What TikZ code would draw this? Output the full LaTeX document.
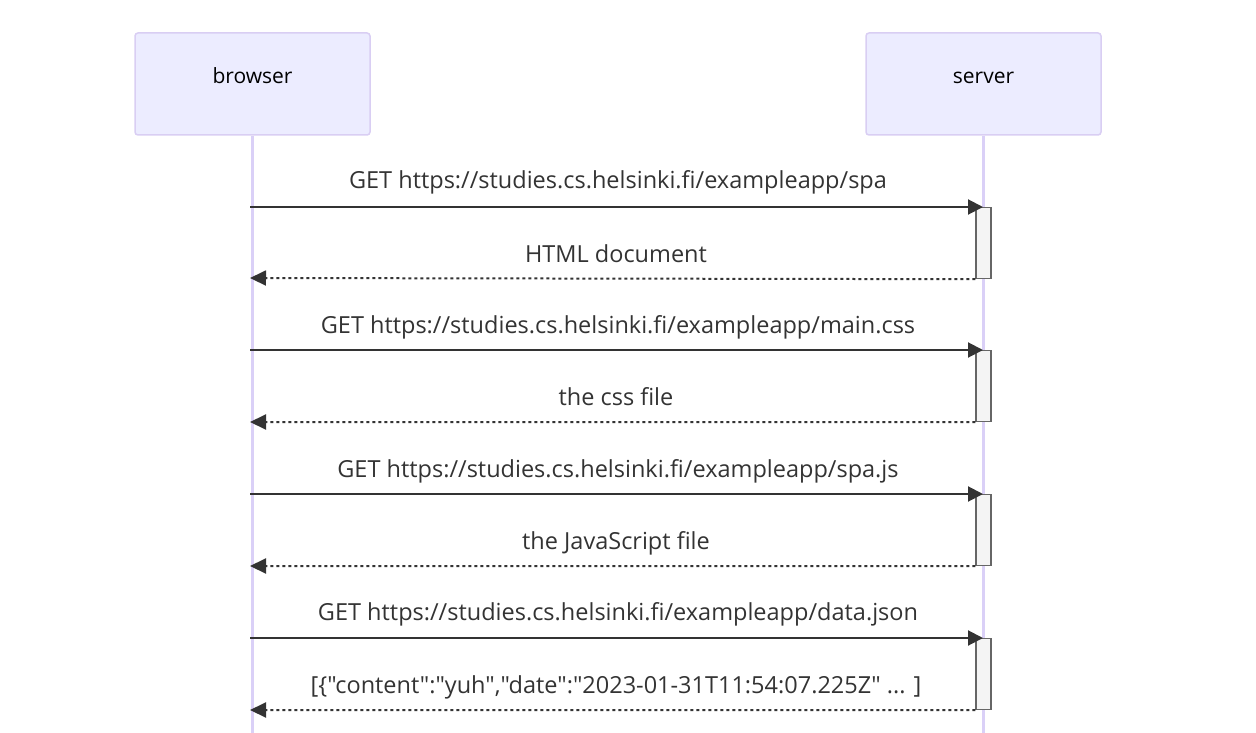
\documentclass[tikz,border=0pt]{standalone}
\usepackage{fontspec}
\setmainfont[Ligatures={CommonOff,TeXOff}]{Open Sans}
\usetikzlibrary{arrows.meta}
\definecolor{actfill}{HTML}{ECECFF}
\definecolor{actline}{HTML}{D9CEF3}
\definecolor{lifecol}{HTML}{DAD0F7}
\definecolor{txt}{HTML}{333333}
\definecolor{actvfill}{HTML}{F4F4F4}
\definecolor{actvline}{HTML}{666666}
\tikzset{
  actor/.style={draw=actline, fill=actfill, line width=1.5pt, rounded corners=3pt, minimum width=235pt, minimum height=102pt, inner sep=0pt},
  actorlabel/.style={font=\fontsize{21}{25}\selectfont, text=black, inner sep=0pt, anchor=base},
  lifeline/.style={draw=lifecol, line width=2.5pt},
  actv/.style={draw=actvline, fill=actvfill, line width=1.2pt, minimum width=15pt, inner sep=0pt, anchor=north},
  req/.style={draw=txt, line width=2pt, -{Triangle[length=15pt,width=15pt]}},
  resp/.style={draw=txt, line width=2pt, dash pattern=on 3pt off 3pt, -{Triangle[length=16pt,width=15pt]}},
  msg/.style={font=\fontsize{23.5}{28}\selectfont, text=txt, inner sep=0pt, anchor=base}
}
\begin{document}
\begin{tikzpicture}[x=1pt,y=-1pt]
\useasboundingbox (0,0) rectangle (1256,733);
\node[actor] (browser) at (252.5,84) {};
\node[actor] (server) at (983.5,84) {};
\node[actorlabel] (browserlabel) at (252.5,84) {browser};
\node[actorlabel] (serverlabel) at (983.5,84) {server};
\coordinate (bend) at (252.5,733);
\coordinate (send) at (983.5,733);
\draw[lifeline] (browser.south) -- (bend);
\draw[lifeline] (server.south) -- (send);
% activation boxes
\foreach \i/\y in {1/207,2/350,3/494,4/638}{
  \node[actv, minimum height=71pt] (act\i) at (983.5,\y) {};
}
% lifeline coordinates
\foreach \i/\y in {1/207,2/278,3/350,4/422,5/494,6/566,7/638,8/710}{
  \coordinate (b\i) at (250,\y);
  \coordinate (s\i) at (983,\y);
}
\draw[req] (b1) -- (s1);
\draw[resp] (act1.south west) -- (b2);
\draw[req] (b3) -- (s3);
\draw[resp] (act2.south west) -- (b4);
\draw[req] (b5) -- (s5);
\draw[resp] (act3.south west) -- (b6);
\draw[req] (b7) -- (s7);
\draw[resp] (act4.south west) -- (b8);
% labels
\node[msg] (m1) at (618,189) {GET https://studies.cs.helsinki.fi/exampleapp/spa};
\node[msg] (m2) at (616,262) {HTML document};
\node[msg] (m3) at (618,333) {GET https://studies.cs.helsinki.fi/exampleapp/main.css};
\node[msg] (m4) at (616,405) {the css file};
\node[msg] (m5) at (618,477) {GET https://studies.cs.helsinki.fi/exampleapp/spa.js};
\node[msg] (m6) at (616,549) {the JavaScript file};
\node[msg] (m7) at (618,620) {GET https://studies.cs.helsinki.fi/exampleapp/data.json};
\node[msg] (m8) at (616,693) {[\{"content":"yuh","date":"2023-01-31T11:54:07.225Z" ... ]};
\end{tikzpicture}
\end{document}
